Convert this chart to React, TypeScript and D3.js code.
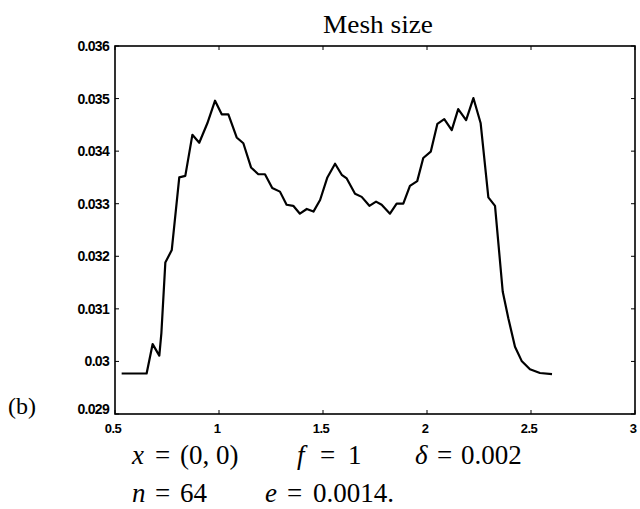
import React from "react";
import * as d3 from "d3";

// mesh size along the line
const xValues = [
    0.532, 0.652, 0.681, 0.713, 0.723, 0.742, 0.773, 0.809, 0.838, 0.872, 0.905, 0.944, 0.981,
    1.013, 1.045, 1.085, 1.117, 1.154, 1.189, 1.221, 1.256, 1.293, 1.325, 1.357, 1.389, 1.422,
    1.454, 1.486, 1.521, 1.558, 1.59, 1.614, 1.654, 1.686, 1.723, 1.755, 1.782, 1.822, 1.854,
    1.886, 1.918, 1.953, 1.982, 2.018, 2.05, 2.083, 2.119, 2.15, 2.188, 2.223, 2.258, 2.295,
    2.327, 2.364, 2.391, 2.423, 2.455, 2.495, 2.543, 2.601,
];
const meshSize = [
    0.02977, 0.02977, 0.03033, 0.03011, 0.03054, 0.03188, 0.03212, 0.0335, 0.03353, 0.03431,
    0.03416, 0.03453, 0.03496, 0.0347, 0.0347, 0.03426, 0.03415, 0.03369, 0.03356, 0.03356,
    0.0333, 0.03323, 0.03298, 0.03296, 0.03281, 0.0329, 0.03285, 0.03307, 0.0335, 0.03376,
    0.03355, 0.03348, 0.03319, 0.03313, 0.03296, 0.03304, 0.03298, 0.03281, 0.033, 0.033,
    0.03334, 0.03343, 0.03387, 0.03399, 0.03452, 0.03461, 0.0344, 0.0348, 0.03459, 0.03501,
    0.03453, 0.03312, 0.03296, 0.03133, 0.03082, 0.03028, 0.03001, 0.02985, 0.02978, 0.02976,
];
const xTicks = [0.5, 1, 1.5, 2, 2.5, 3];
const xTickLabels = ["0.5", "1", "1.5", "2", "2.5", "3"];
const yTicks = [0.029, 0.03, 0.031, 0.032, 0.033, 0.034, 0.035, 0.036];
const yTickLabels = ["0.029", "0.03", "0.031", "0.032", "0.033", "0.034", "0.035", "0.036"];

// caption: variable, value, [x of variable, x of "=", x of value, baseline]
const caption = [
    {v: "x", val: "(0, 0)", at: [132, 155, 180, 464]},
    {v: "f", val: "1", at: [297, 320, 348, 464]},
    {v: "δ", val: "0.002", at: [415, 437, 461, 464]},
    {v: "n", val: "64", at: [132, 155, 180, 502]},
    {v: "e", val: "0.0014.", at: [265, 287, 313, 502]},
];

const serif = "'Liberation Serif', 'Times New Roman', serif";
const sans = "'Liberation Sans', Arial, sans-serif";

export default function App() {
    const width = 640;
    const height = 509;
    const left = 115, right = 635, top = 46, bottom = 414;

    const x = d3.scaleLinear().domain([0.5, 3]).range([left, right]);
    const y = d3.scaleLinear().domain([0.029, 0.036]).range([bottom, top]);

    const line = d3.line<number>()
        .x((d, i) => x(xValues[i]))
        .y(d => y(d));

    const tick = 4;

    return (
        <svg width={width} height={height} style={{position: "absolute", left: 0, top: 0, background: "#fff"}}>
            <text x={(left + right) / 2 + 3} y={33} textAnchor="middle" fontFamily={serif} fontSize={26}
                  textLength={110} lengthAdjust="spacingAndGlyphs">Mesh size</text>

            <rect x={left} y={top} width={right - left} height={bottom - top} fill="none" stroke="#000" strokeWidth={1.6}/>

            {xTicks.map((t, i) => (
                <g key={"x" + i}>
                    <line x1={x(t)} x2={x(t)} y1={bottom} y2={bottom - tick} stroke="#000" strokeWidth={1}/>
                    <line x1={x(t)} x2={x(t)} y1={top} y2={top + tick} stroke="#000" strokeWidth={1}/>
                    <text x={x(t) - 2} y={433} textAnchor="middle" fontFamily={sans} fontWeight="bold" fontSize={13}
                          letterSpacing={-0.6}>
                        {xTickLabels[i]}
                    </text>
                </g>
            ))}

            {yTicks.map((t, i) => (
                <g key={"y" + i}>
                    <line x1={left} x2={left + tick} y1={y(t)} y2={y(t)} stroke="#000" strokeWidth={1}/>
                    <line x1={right} x2={right - tick} y1={y(t)} y2={y(t)} stroke="#000" strokeWidth={1}/>
                    <text x={109} y={i === 0 ? y(t) : y(t) + 5} textAnchor="end" fontFamily={sans} fontWeight="bold"
                          fontSize={14} letterSpacing={-0.7}>
                        {yTickLabels[i]}
                    </text>
                </g>
            ))}

            <path d={line(meshSize) || ""} fill="none" stroke="#000" strokeWidth={2.2} strokeLinejoin="round"/>

            <text x={8} y={414} fontFamily={serif} fontSize={24}>(b)</text>

            <g fontFamily={serif} fontSize={27}>
                {caption.map((c, i) => (
                    <g key={"c" + i}>
                        <text x={c.at[0]} y={c.at[3]} fontStyle="italic">{c.v}</text>
                        <text x={c.at[1]} y={c.at[3]}>=</text>
                        <text x={c.at[2]} y={c.at[3]}>{c.val}</text>
                    </g>
                ))}
            </g>
        </svg>
    );
}
